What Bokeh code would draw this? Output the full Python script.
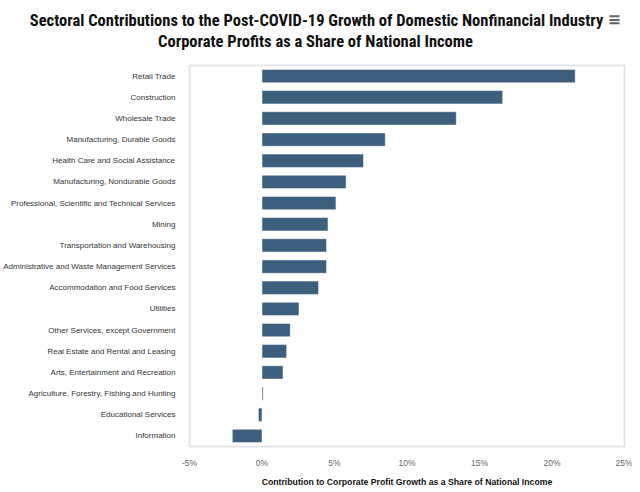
from bokeh.plotting import figure
from bokeh.models import Range1d, FactorRange, FixedTicker, PrintfTickFormatter, Title, ColumnDataSource
from bokeh.embed import file_html
from bokeh.resources import INLINE

sectors = [
    "Retail Trade",
    "Construction",
    "Wholesale Trade",
    "Manufacturing, Durable Goods",
    "Health Care and Social Assistance",
    "Manufacturing, Nondurable Goods",
    "Professional, Scientific and Technical Services",
    "Mining",
    "Transportation and Warehousing",
    "Administrative and Waste Management Services",
    "Accommodation and Food Services",
    "Utilities",
    "Other Services, except Government",
    "Real Estate and Rental and Leasing",
    "Arts, Entertainment and Recreation",
    "Agriculture, Forestry, Fishing and Hunting",
    "Educational Services",
    "Information",
]
contributions = [21.6, 16.6, 13.4, 8.5, 7.0, 5.8, 5.1, 4.55, 4.45, 4.45,
                 3.9, 2.55, 1.95, 1.7, 1.45, 0.08, -0.25, -2.05]
x_ticks = [-5, 0, 5, 10, 15, 20, 25]

title_line1 = "Sectoral Contributions to the Post-COVID-19 Growth of Domestic Nonfinancial Industry"
title_line2 = "Corporate Profits as a Share of National Income"
x_title = "Contribution to Corporate Profit Growth as a Share of National Income"

source = ColumnDataSource(dict(sector=sectors, value=contributions))

p = figure(
    y_range=FactorRange(factors=list(reversed(sectors)), range_padding=0),
    x_range=Range1d(-5, 25),
    frame_width=435, frame_height=381,
    min_border_left=181, min_border_right=8, min_border_top=65, min_border_bottom=30,
    output_backend="svg", toolbar_location=None,
)
p.hbar(y="sector", right="value", left=0, height=0.63, source=source,
       fill_color="#3d5f7e", line_color="white", line_width=0.5)

p.outline_line_color = "#e6e6e6"
p.outline_line_width = 2
p.xgrid.visible = False
p.ygrid.visible = False

ya = p.yaxis[0]
ya.axis_line_color = None
ya.major_tick_line_color = None
ya.minor_tick_line_color = None
ya.major_label_standoff = 8
ya.major_label_text_font = "Liberation Sans"
ya.major_label_text_font_size = "8px"
ya.major_label_text_color = "#333333"

xa = p.xaxis[0]
xa.ticker = FixedTicker(ticks=x_ticks)
xa.formatter = PrintfTickFormatter(format="%d%%")
xa.axis_line_color = None
xa.major_tick_line_color = None
xa.minor_tick_line_color = None
xa.major_label_standoff = 5
xa.major_label_text_font = "Liberation Sans"
xa.major_label_text_font_size = "8.5px"
xa.major_label_text_color = "#666666"
xa.axis_label = x_title
xa.axis_label_text_font = "Liberation Sans"
xa.axis_label_text_font_style = "bold"
xa.axis_label_text_font_size = "8.7px"
xa.axis_label_text_color = "#111111"
xa.axis_label_standoff = 6

title_font = "'Roboto Condensed', 'DejaVu Sans Condensed', 'Liberation Sans'"
spacer = Title(text=" ", align="left", standoff=-6.5,
               text_font=title_font, text_font_style="bold", text_font_size="16.5px")
t2 = Title(text=title_line2, align="left", offset=-31.4, standoff=0,
           text_font=title_font, text_font_style="bold", text_font_size="16.5px",
           text_color="#111111")
t1 = Title(text=title_line1, align="left", offset=-159.7, standoff=0,
           text_font=title_font, text_font_style="bold", text_font_size="16.5px",
           text_color="#111111")
t3 = Title(text="\u2261", align="right", offset=3.5, standoff=-41,
           text_font="DejaVu Sans", text_font_size="16px", text_color="#666666")
p.add_layout(spacer, "above")
p.add_layout(t2, "above")
p.add_layout(t1, "above")
p.add_layout(t3, "above")

open("out.html", "w").write(file_html(p, INLINE))
